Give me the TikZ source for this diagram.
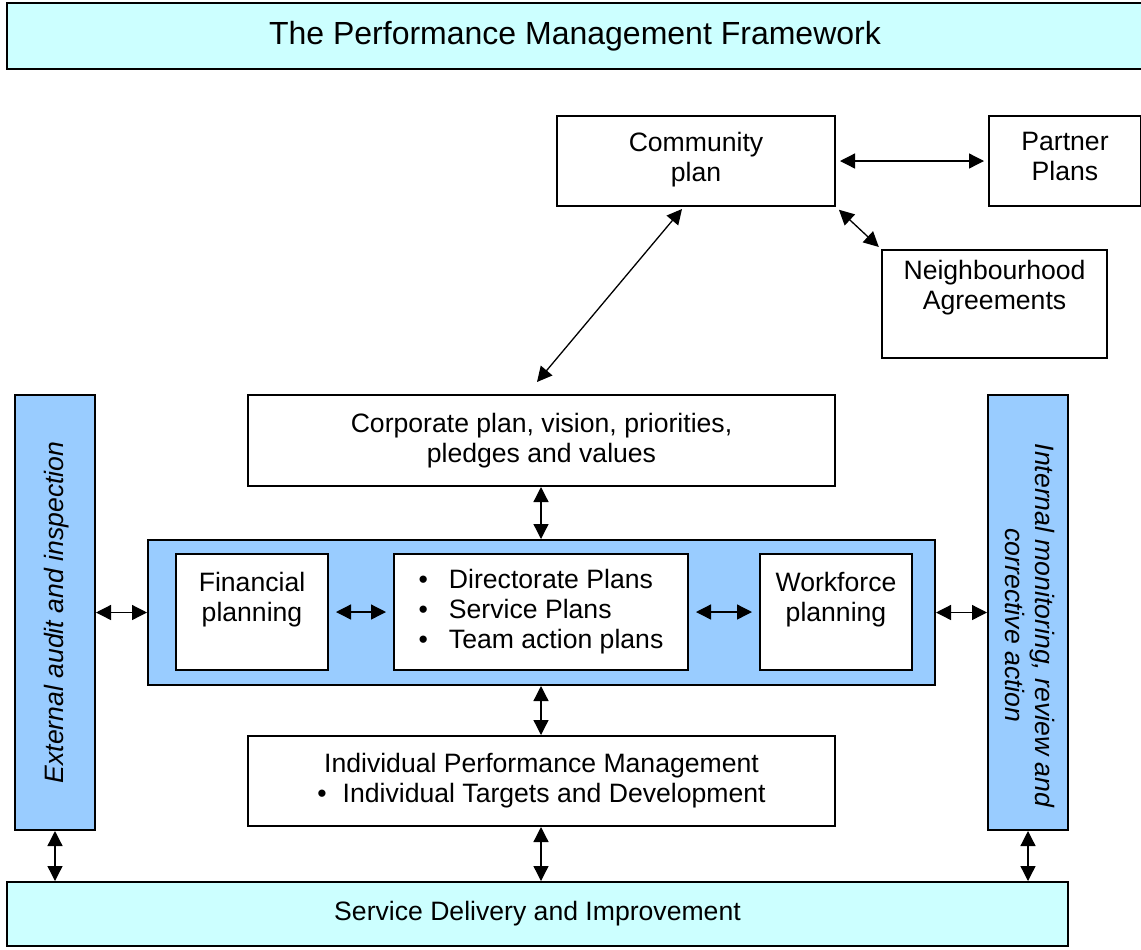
\documentclass[tikz,border=0pt]{standalone}
\usepackage{fontspec}
\setmainfont{Liberation Sans}
\usetikzlibrary{arrows.meta}
\definecolor{palecyan}{HTML}{CCFFFF}
\definecolor{skyblue}{HTML}{99CCFF}
\tikzset{
  pbox/.style={draw, fill=white, line width=1pt, align=center, inner sep=2pt},
  cbox/.style={pbox, fill=palecyan},
  bbox/.style={pbox, fill=skyblue},
}
\begin{document}
\begin{tikzpicture}[x=0.5pt, y=-0.5pt, <->, >={Triangle[length=7.5pt,width=7.5pt]}, line width=0.65pt,
  every node/.style={font=\fontsize{13.3}{15}\selectfont}]
\useasboundingbox (0,0) rectangle (1141,949);
\node[cbox, minimum width=568pt, minimum height=33pt, font=\fontsize{16}{19}\selectfont](title) at (575,36) {The Performance Management Framework};

\node[pbox, minimum width=139pt, minimum height=45pt](comm) at (696,161) {Community\\plan\strut};
\node[pbox, minimum width=76pt, minimum height=45pt](partner) at (1065,161) {Partner\\Plans\strut};
\node[pbox, minimum width=112.5pt, minimum height=54pt](neigh) at (994.5,304) {Neighbourhood\\Agreements\\[4pt]\mbox{}};
\node[pbox, minimum width=293.5pt, minimum height=45.5pt](corp) at (541.5,440.5) {Corporate plan, vision, priorities,\\pledges and values};

\node[bbox, minimum width=393.5pt, minimum height=72.5pt](mid) at (541.5,612.5) {};
\node[pbox, minimum width=76pt, minimum height=58pt](fin) at (252,612) {Financial\\planning\\\mbox{}};
\node[pbox, minimum width=147pt, minimum height=58pt, align=left](dir) at (541,612) {\textbullet\hspace{10.5pt}Directorate Plans\\\textbullet\hspace{10.5pt}Service Plans\\\textbullet\hspace{10.5pt}Team action plans};
\node[pbox, minimum width=76pt, minimum height=58pt](work) at (836,612) {Workforce\\planning\\\mbox{}};

\node[bbox, minimum width=40pt, minimum height=217.5pt](ext) at (55,612.5) {};
\node[rotate=90, font=\fontsize{13.3}{15}\selectfont\itshape] at ([xshift=1pt]ext) {External audit and inspection};
\node[bbox, minimum width=40pt, minimum height=217.5pt](intm) at (1028,612.5) {};
\node[rotate=-90, align=center, font=\fontsize{13.3}{15}\selectfont\itshape] at ([xshift=1pt,yshift=-6.5pt]intm) {Internal monitoring, review and\\corrective action};

\node[pbox, minimum width=293.5pt, minimum height=45pt](indiv) at (541.5,781) {Individual Performance Management\\\textbullet\hspace{8pt}Individual Targets and Development};
\node[cbox, minimum width=530.5pt, minimum height=32pt](serv) at (537.5,914) {Service Delivery and Improvement};

\path (comm) edge[shorten <=2pt, shorten >=2pt] (partner);
\path (comm.south east) edge[shorten <=2pt, shorten >=1.5pt] (neigh.north west);
\path ([xshift=-7pt,yshift=-1pt]comm.south) edge ([xshift=-2.25pt,yshift=6pt]corp.north);
\path ([xshift=-0.25pt]corp.south) edge ([xshift=-0.25pt]mid.north);
\path ([xshift=-0.25pt]mid.south) edge ([xshift=-0.25pt]indiv.north);
\path ([xshift=-0.25pt]indiv.south) edge ([xshift=-0.25pt]indiv.south |- serv.north);
\path (ext.east |- mid) edge (mid.west);
\path (fin) edge[shorten <=3.5pt, shorten >=3.5pt] (dir);
\path (dir) edge[shorten <=3.5pt, shorten >=3.5pt] (work);
\path (mid.east) edge (intm.west |- mid);
\path (ext.south) edge (ext.south |- serv.north);
\path (intm.south) edge (intm.south |- serv.north);
\end{tikzpicture}
\end{document}
